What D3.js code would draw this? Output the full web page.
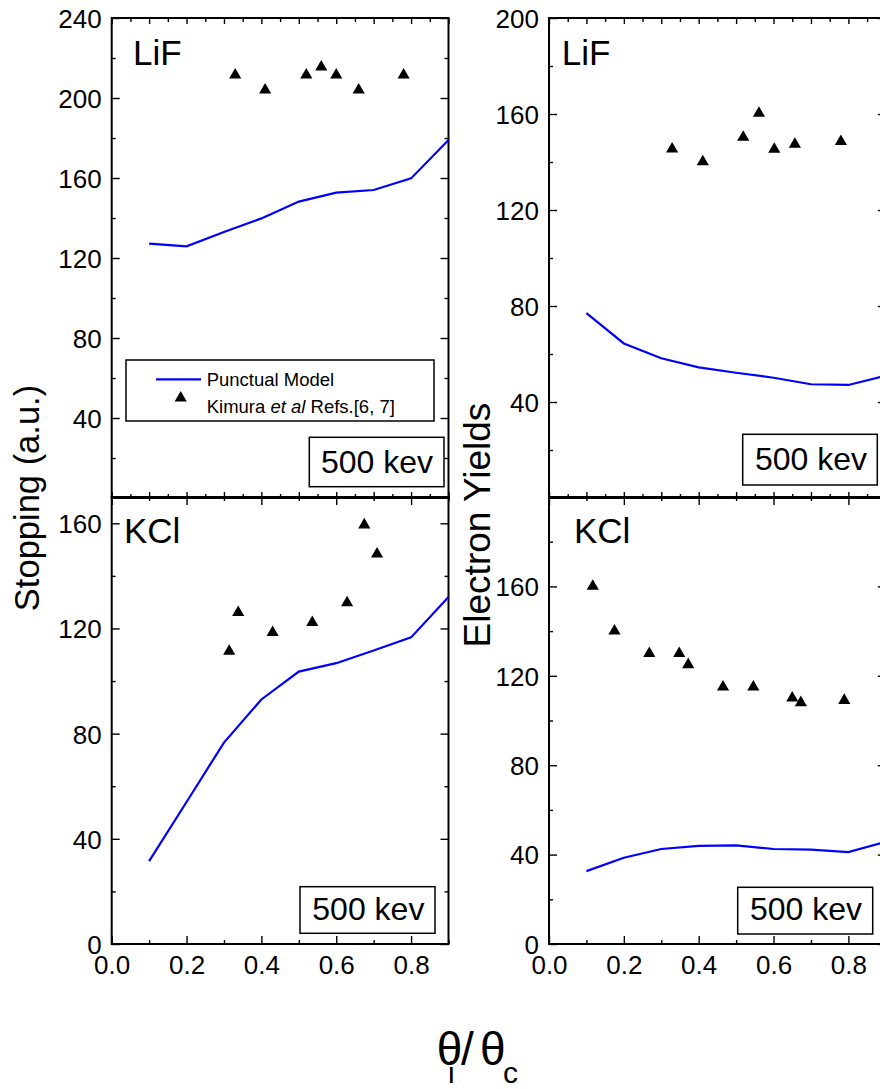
<!DOCTYPE html>
<html>
<head>
<meta charset="utf-8">
<script src="https://cdn.jsdelivr.net/npm/d3@7"></script>
<style>
  body { margin: 0; background: #fff; }
  text { font-family: "Liberation Sans", Arial, sans-serif; fill: #000; }
</style>
</head>
<body>
<svg id="chart" width="880" height="1089"></svg>
<script>
// stopping and electron yields vs theta_i/theta_c, LiF and KCl at 500 kev

// punctual model curves
var thetaModel = [0.1, 0.2, 0.3, 0.4, 0.5, 0.6, 0.7, 0.8, 0.9];
var lifStopModel = [127.2, 125.8, 133, 139.8, 148.2, 152.7, 154, 159.8, 179];
var kclStopModel = [31.5, 54, 76.6, 93, 103.6, 106.8, 111.6, 116.6, 132];
var lifYieldModel = [77, 64.4, 58.2, 54.4, 52.2, 50.1, 47.4, 47.1, 51];
var kclYieldModel = [32.6, 38.6, 42.5, 43.9, 44.1, 42.5, 42.2, 41.1, 45.7];

// Kimura et al measurements
var lifStopExpX = [0.33, 0.41, 0.52, 0.56, 0.60, 0.66, 0.78];
var lifStopExpY = [211.5, 204, 211.5, 215.5, 211.5, 204, 211.5];
var kclStopExpX = [0.314, 0.338, 0.430, 0.536, 0.629, 0.675, 0.709];
var kclStopExpY = [111.3, 126.1, 118.5, 122.3, 129.8, 159.4, 148.3];
var lifYieldExpX = [0.329, 0.411, 0.519, 0.561, 0.602, 0.657, 0.780];
var lifYieldExpY = [145.4, 140.1, 150.3, 160.3, 145.3, 147.4, 148.5];
var kclYieldExpX = [0.117, 0.175, 0.268, 0.348, 0.372, 0.465, 0.546, 0.650, 0.673, 0.789];
var kclYieldExpY = [160.1, 140, 130, 130, 125, 115, 115, 110.1, 108, 109];

// tick values
var xLabelTicks = [0, 0.2, 0.4, 0.6, 0.8];
var xMinorBottom = [0.1, 0.3, 0.5, 0.7, 0.9];
var xMajorTop = [0, 0.1, 0.2, 0.3, 0.4, 0.5, 0.6, 0.7, 0.8, 0.9];
var xMinorTop = [0.05, 0.15, 0.25, 0.35, 0.45, 0.55, 0.65, 0.75, 0.85];
var yStopTopTicks = [40, 80, 120, 160, 200, 240];
var yStopBotTicks = [0, 40, 80, 120, 160];
var yYieldTopTicks = [40, 80, 120, 160, 200];
var yYieldBotTicks = [0, 40, 80, 120, 160];
var yMinorTicks = [20, 60, 100, 140, 180, 220];

var svg = d3.select('#chart');
svg.append('rect').attr('width', 880).attr('height', 1089).attr('fill', '#fff');

var zip = function(xs, ys){ return xs.map(function(x, i){ return [x, ys[i]]; }); };

var panels = [
  { x0: 111.7, x1: 448.5, y0: 498, y1: 18, max: 240, top: true, ticks: yStopTopTicks,
    name: 'LiF', nameX: 133, nameY: 65, box: [309.3, 437.3, 134.7, 49.4], kevX: 321, kevY: 473.3,
    model: lifStopModel, expX: lifStopExpX, expY: lifStopExpY, legend: true },
  { x0: 111.7, x1: 448.5, y0: 944, y1: 497, max: 170, top: false, ticks: yStopBotTicks,
    name: 'KCl', nameX: 124, nameY: 543.3, box: [300, 886.7, 135, 46.6], kevX: 312.3, kevY: 920,
    model: kclStopModel, expX: kclStopExpX, expY: kclStopExpY },
  { x0: 549, x1: 885.8, y0: 498, y1: 18, max: 200, top: true, ticks: yYieldTopTicks,
    name: 'LiF', nameX: 561.7, nameY: 65, box: [742.7, 434.3, 134.6, 50.7], kevX: 755, kevY: 470,
    model: lifYieldModel, expX: lifYieldExpX, expY: lifYieldExpY },
  { x0: 549, x1: 885.8, y0: 944, y1: 497, max: 200, top: false, ticks: yYieldBotTicks,
    name: 'KCl', nameX: 574, nameY: 543.3, box: [737.7, 887.3, 135, 46.7], kevX: 750, kevY: 920,
    model: kclYieldModel, expX: kclYieldExpX, expY: kclYieldExpY }
];

var tri = d3.symbol().type(d3.symbolTriangle).size(64);

panels.forEach(function(p){
  var x = d3.scaleLinear().domain([0, 0.9]).range([p.x0, p.x1]);
  var y = d3.scaleLinear().domain([0, p.max]).range([p.y0, p.y1]);
  var w = p.x1 - p.x0;
  var h = p.y0 - p.y1;
  var g = svg.append('g');
  var minor = yMinorTicks.filter(function(v){ return v < p.max; });

  // y axes, ticks pointing inward
  var yl = g.append('g').attr('transform', 'translate(' + p.x0 + ',0)')
    .call(d3.axisLeft(y).tickValues(p.ticks).tickSize(-8).tickPadding(10));
  yl.selectAll('text').attr('font-size', 26).attr('dy', '0.36em');
  g.append('g').attr('transform', 'translate(' + p.x0 + ',0)')
    .call(d3.axisLeft(y).tickValues(minor).tickSize(-4).tickFormat(''));
  g.append('g').attr('transform', 'translate(' + p.x1 + ',0)')
    .call(d3.axisRight(y).tickValues(p.ticks).tickSize(-8).tickFormat(''));
  g.append('g').attr('transform', 'translate(' + p.x1 + ',0)')
    .call(d3.axisRight(y).tickValues(minor).tickSize(-4).tickFormat(''));

  // x axes
  var majX = p.top ? xMajorTop : xLabelTicks;
  var minX = p.top ? xMinorTop : xMinorBottom;
  var majLen = p.top ? 6 : 8;
  g.append('g').attr('transform', 'translate(0,' + p.y1 + ')')
    .call(d3.axisTop(x).tickValues(majX).tickSize(-majLen).tickFormat(''));
  g.append('g').attr('transform', 'translate(0,' + p.y1 + ')')
    .call(d3.axisTop(x).tickValues(minX).tickSize(-4).tickFormat(''));
  var xb = g.append('g').attr('transform', 'translate(0,' + p.y0 + ')')
    .call(d3.axisBottom(x).tickValues(majX).tickSize(-majLen).tickPadding(12)
      .tickFormat(p.top ? '' : d3.format('.1f')));
  xb.selectAll('text').attr('font-size', 26);
  g.append('g').attr('transform', 'translate(0,' + p.y0 + ')')
    .call(d3.axisBottom(x).tickValues(minX).tickSize(-4).tickFormat(''));

  g.selectAll('.domain').remove();
  g.selectAll('.tick line').attr('stroke', '#000').attr('stroke-width', 1.4);

  // frame
  g.append('rect').attr('x', p.x0).attr('y', p.y1).attr('width', w).attr('height', h)
    .attr('fill', 'none').attr('stroke', '#000').attr('stroke-width', 2);

  // model line
  g.append('path')
    .datum(zip(thetaModel, p.model))
    .attr('fill', 'none').attr('stroke', '#0000ff').attr('stroke-width', 2.2)
    .attr('d', d3.line().x(function(d){ return x(d[0]); }).y(function(d){ return y(d[1]); }));

  // experimental points
  g.selectAll('path.pt')
    .data(zip(p.expX, p.expY))
    .enter()
    .append('path')
    .attr('class', 'pt')
    .attr('d', tri)
    .attr('fill', '#000')
    .attr('transform', function(d){ return 'translate(' + x(d[0]) + ',' + y(d[1]) + ')'; });

  // material label and energy box
  g.append('text').attr('x', p.nameX).attr('y', p.nameY).attr('font-size', 35).text(p.name);
  g.append('rect').attr('x', p.box[0]).attr('y', p.box[1]).attr('width', p.box[2]).attr('height', p.box[3])
    .attr('fill', '#fff').attr('stroke', '#000').attr('stroke-width', 1.5);
  g.append('text').attr('x', p.kevX).attr('y', p.kevY).attr('font-size', 32).text('500 kev');

  if(p.legend){
    var lg = g.append('g');
    lg.append('rect').attr('x', 126).attr('y', 360).attr('width', 308).attr('height', 61)
      .attr('fill', '#fff').attr('stroke', '#000').attr('stroke-width', 1.5);
    lg.append('line').attr('x1', 156).attr('x2', 201).attr('y1', 379.3).attr('y2', 379.3)
      .attr('stroke', '#0000ff').attr('stroke-width', 2.2);
    lg.append('text').attr('x', 206.7).attr('y', 386).attr('font-size', 18.5).text('Punctual Model');
    lg.append('path').attr('d', tri).attr('fill', '#000').attr('transform', 'translate(180.7,398)');
    var t = lg.append('text').attr('x', 206.7).attr('y', 413).attr('font-size', 18.5);
    t.append('tspan').text('Kimura ');
    t.append('tspan').attr('font-style', 'italic').text('et al');
    t.append('tspan').text(' Refs.[6, 7]');
  }
});

// axis titles
svg.append('text')
  .attr('transform', 'translate(38.5,498) rotate(-90)')
  .attr('text-anchor', 'middle').attr('font-size', 34.5)
  .text('Stopping (a.u.)');
svg.append('text')
  .attr('transform', 'translate(490,525) rotate(-90)')
  .attr('text-anchor', 'middle').attr('font-size', 37)
  .text('Electron Yields');

var xt = svg.append('g');
xt.append('text').attr('x', 436.7).attr('y', 1065).attr('font-size', 46).text('\u03b8');
xt.append('text').attr('x', 448).attr('y', 1083).attr('font-size', 30).text('i');
xt.append('text').attr('x', 461).attr('y', 1065).attr('font-size', 46).text('/');
xt.append('text').attr('x', 480).attr('y', 1065).attr('font-size', 46).text('\u03b8');
xt.append('text').attr('x', 503).attr('y', 1083).attr('font-size', 30).text('c');
</script>
</body>
</html>
